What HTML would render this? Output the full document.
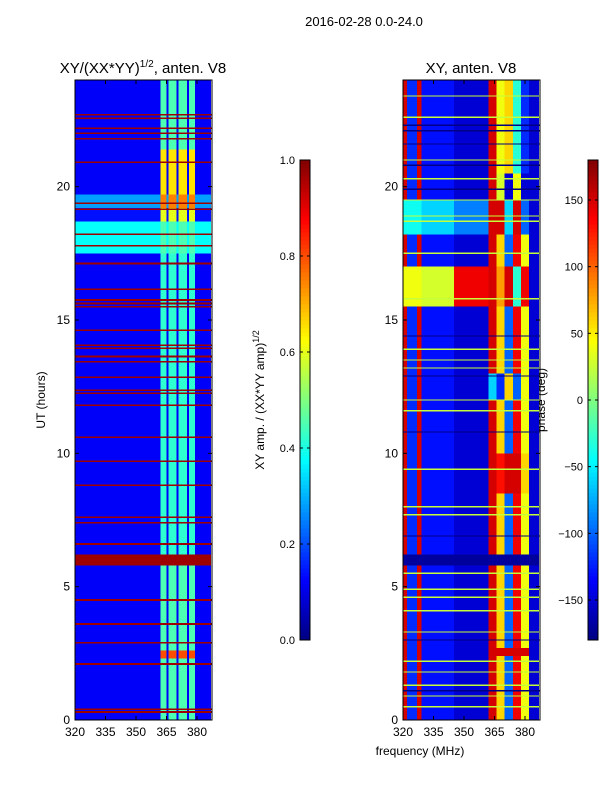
<!DOCTYPE html>
<html><head><meta charset="utf-8"><style>
body{margin:0;background:#fff;}
svg{display:block;font-family:"Liberation Sans",sans-serif;}
</style></head><body>
<svg id="fig" width="600" height="800" viewBox="0 0 600 800" xmlns="http://www.w3.org/2000/svg">
<text x="364" y="26" font-size="13" text-anchor="middle">2016-02-28 0.0-24.0</text>
<text x="143" y="73" font-size="15" text-anchor="middle">XY/(XX*YY)<tspan font-size="10" dy="-6">1/2</tspan><tspan dy="6">, anten. V8</tspan></text>
<text x="471" y="73" font-size="15" text-anchor="middle">XY, anten. V8</text>
<text x="420" y="755" font-size="12" text-anchor="middle">frequency (MHz)</text>
<text transform="translate(45,400) rotate(-90)" font-size="12" text-anchor="middle">UT (hours)</text>
<text transform="translate(264,400) rotate(-90)" font-size="12" text-anchor="middle">XY amp. / (XX*YY amp)<tspan font-size="9" dy="-5">1/2</tspan></text>
<text transform="translate(545,400) rotate(-90)" font-size="12" text-anchor="middle">phase (deg)</text>
<g id="ampPanel"></g>
<g id="phasePanel"></g>
<g id="axes"></g>
</svg>
<script>
// ---- data ----
const utTicks = [0,5,10,15,20];
const freqTicks = [320,335,350,365,380];
const ampFreqEdges = [320,362,365,366,370,371,375,376,379,387];
const ampColStripe = [0,1,0,1,0,1,0,1,0];
// [utStart, utEnd, lowFreqValue, stripeValue]
const ampBands = [[0,5.8,0.12,0.45],[5.8,6.2,0.97,0.97],[6.2,17.5,0.12,0.42],[17.5,18.7,0.38,0.45],[18.7,19.2,0.14,0.6],[19.2,19.7,0.28,0.75],[19.7,21.4,0.12,0.65],[21.4,24,0.12,0.45],[2.3,2.6,0.12,0.8]];
const ampRedLines = [0.3,0.4,2.1,2.9,3.6,4.5,6.6,7.4,7.6,8.8,9.7,10.6,11.8,12.25,12.37,12.86,13.44,13.63,13.94,14.06,14.61,15.5,15.62,15.75,16.15,17.12,17.79,18.21,19.16,19.38,20.91,21.79,22.0,22.19,22.56,22.69];
const ampCbTicks = [0.0,0.2,0.4,0.6,0.8,1.0];

const phaseFreqEdges = [320,322,327,329,345,362,366,370,374,378,382,387];
const phaseColBase = [150,-120,150,-130,-150,150,60,-100,140,40,-150];
// [utStart, utEnd, per-column values (null = keep base)]
const phaseBands = [
 [15.5,17,[40,40,40,30,140,150,80,150,-30,140,-150]],
 [18.2,19.5,[-40,-40,-40,-60,-90,150,150,-60,150,-100,-150]],
 [19.5,20.5,[null,null,null,null,null,150,30,-150,40,-150,null]],
 [5.8,6.2,[-170,-170,-170,-170,-170,-170,-170,-170,-170,-170,-170]],
 [8.5,10,[null,null,null,null,null,150,130,150,150,60,null]],
 [12,13,[null,null,null,null,null,-60,-120,60,-100,40,null]],
 [20.5,24,[null,null,null,null,null,150,40,60,-30,-120,null]],
 [2.4,2.7,[null,null,null,null,null,150,150,150,150,150,null]]
];
const phaseLines = [0.5,0.9,1.3,1.8,2.2,3.3,4.1,4.6,4.9,5.5,7.7,8.0,9.4,11.6,12.0,13.2,13.5,13.9,15.8,17.5,18.7,18.9,19.5,20.3,21.0,22.6,23.4];
const phaseDarkLines = [1.1,3.0,6.9,10.8,12.9,14.4,19.9,20.8,21.6,22.1,22.3];
const phaseCbTicks = [-150,-100,-50,0,50,100,150];

// ---- helpers ----
const NS = "http://www.w3.org/2000/svg";
function jet(x){x=Math.max(0,Math.min(1,x));const c=v=>Math.round(255*Math.max(0,Math.min(1,v)));
 return `rgb(${c(1.5-Math.abs(4*x-3))},${c(1.5-Math.abs(4*x-2))},${c(1.5-Math.abs(4*x-1))})`;}
const PT=80,PB=720;
const yUT = ut => PB-(ut/24)*(PB-PT);
function xF(x0){return f => x0+(f-320)*(122/60);}
function rect(g,x,y,w,h,fill){const r=document.createElementNS(NS,'rect');
 r.setAttribute('x',x);r.setAttribute('y',y);r.setAttribute('width',w);r.setAttribute('height',h);r.setAttribute('fill',fill);r.setAttribute('shape-rendering','crispEdges');
 
 
 g.appendChild(r);return r;}
function text(g,x,y,s,anchor,name){const t=document.createElementNS(NS,'text');
 t.setAttribute('x',x);t.setAttribute('y',y);t.setAttribute('font-size','12');t.setAttribute('text-anchor',anchor);t.textContent=s;
 
 
 g.appendChild(t);}
function line(g,x1,y1,x2,y2){const l=document.createElementNS(NS,'line');
 l.setAttribute('x1',x1);l.setAttribute('y1',y1);l.setAttribute('x2',x2);l.setAttribute('y2',y2);l.setAttribute('stroke','#000');
 
 
 g.appendChild(l);}

// ---- amp panel ----
const gA=document.getElementById('ampPanel'), xA=xF(75);
for(const b of ampBands){for(let i=0;i<ampColStripe.length;i++){
 const v=ampColStripe[i]?b[3]:b[2];
 rect(gA,xA(ampFreqEdges[i]),yUT(b[1]),xA(ampFreqEdges[i+1])-xA(ampFreqEdges[i]),yUT(b[0])-yUT(b[1]),jet(v));}}
for(const u of ampRedLines){rect(gA,75,yUT(u)-0.8,137,1.6,jet(0.97));}

// ---- phase panel ----
const gP=document.getElementById('phasePanel'), xP=xF(403);
const pn=v=>(v+180)/360;
for(let i=0;i<phaseColBase.length;i++)rect(gP,xP(phaseFreqEdges[i]),PT,xP(phaseFreqEdges[i+1])-xP(phaseFreqEdges[i]),PB-PT,jet(pn(phaseColBase[i])));
for(const b of phaseBands){for(let i=0;i<phaseColBase.length;i++){
 const v=b[2][i]; if(v===null)continue;
 rect(gP,xP(phaseFreqEdges[i]),yUT(b[1]),xP(phaseFreqEdges[i+1])-xP(phaseFreqEdges[i]),yUT(b[0])-yUT(b[1]),jet(pn(v)));}}
for(const u of phaseLines){rect(gP,403,yUT(u)-0.6,137,1.2,jet(pn(25)));}
for(const u of phaseDarkLines){rect(gP,403,yUT(u)-0.6,137,1.2,jet(pn(-178)));}

// ---- axes ----
const gX=document.getElementById('axes');
for(const x0 of [75,403]){
 const f=document.createElementNS(NS,'rect');
 f.setAttribute('x',x0);f.setAttribute('y',PT);f.setAttribute('width',137);f.setAttribute('height',PB-PT);f.setAttribute('fill','none');f.setAttribute('stroke','#000');
 
 
 gX.appendChild(f);
 const xs=xF(x0);
 for(const t of freqTicks){line(gX,xs(t),PB,xs(t),PB-4);line(gX,xs(t),PT,xs(t),PT+4);text(gX,xs(t),736,String(t),'middle','x-tick-label');}
 for(const t of utTicks){line(gX,x0,yUT(t),x0+4,yUT(t));line(gX,x0+137,yUT(t),x0+133,yUT(t));text(gX,x0-5,yUT(t)+4,String(t),'end','y-tick-label');}
}
// colorbars
function colorbar(x0,ticks,norm,name){
 for(let i=0;i<120;i++){rect(gX,x0,640-(i+1)*4,10,4.3,jet((i+0.5)/120));}
 const f=document.createElementNS(NS,'rect');
 f.setAttribute('x',x0);f.setAttribute('y',160);f.setAttribute('width',10);f.setAttribute('height',480);f.setAttribute('fill','none');f.setAttribute('stroke','#000');
 
 
 gX.appendChild(f);
 for(const t of ticks){const y=640-norm(t)*480;line(gX,x0,y,x0+3,y);line(gX,x0+10,y,x0+7,y);
  const s=ticks===ampCbTicks?t.toFixed(1):(t<0?'\u2212'+Math.abs(t):String(t));
  const tt=document.createElementNS(NS,'text');tt.setAttribute('x',x0-5);tt.setAttribute('y',y+4);tt.setAttribute('font-size','11');tt.setAttribute('text-anchor','end');tt.textContent=s;
  
  
  gX.appendChild(tt);}
}
colorbar(300,ampCbTicks,v=>v,'amp-colorbar');
colorbar(588,phaseCbTicks,v=>(v+180)/360,'phase-colorbar');
</script>
</body></html>
